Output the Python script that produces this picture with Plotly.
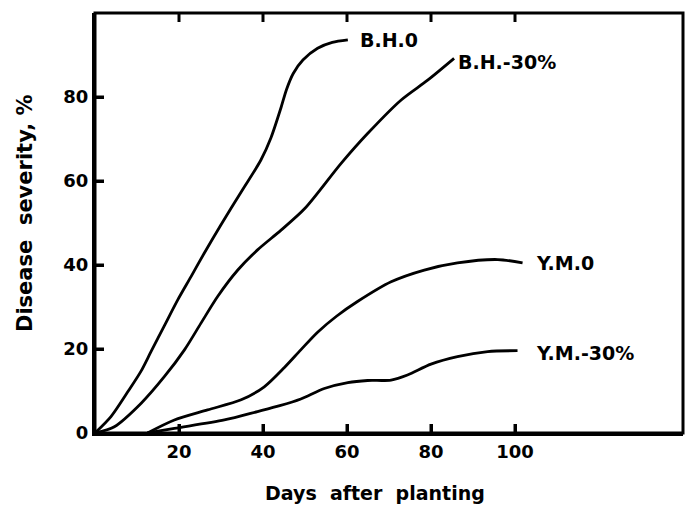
import plotly.graph_objects as go

# Days after planting / disease severity (%)
bh0_x = [0, 3.8, 7.8, 11, 13.3, 16.5, 19.7, 22.9, 26, 30, 34.8, 39.5, 41.9, 44.3, 45.6, 47.2, 49.5, 53, 56.5, 60.2]
bh0_y = [0, 3.9, 9.8, 14.8, 19.3, 25.5, 31.7, 37.3, 42.8, 49.6, 57.4, 65, 70.3, 77.5, 81.8, 85.6, 88.8, 91.6, 93, 93.6]

bh30_x = [0, 4.6, 11, 16.5, 21.3, 25.2, 29.2, 34, 38.7, 44.3, 50, 58.6, 64.9, 72.9, 79.2, 85.5]
bh30_y = [0, 1.5, 7.1, 13.4, 19.8, 26.1, 32.5, 38.8, 43.6, 48.3, 53.5, 64.2, 71.3, 79.3, 84, 89.2]

ym0_x = [12.5, 18.9, 26.8, 34.8, 40.3, 45.1, 49, 53, 57.5, 62.5, 70.5, 78.4, 86.3, 95.9, 101.8]
ym0_y = [0, 3.1, 5.5, 7.9, 11, 15.6, 19.8, 24, 27.8, 31.3, 36, 38.8, 40.5, 41.3, 40.5]

ym30_x = [12.5, 18.9, 30.8, 38.7, 44, 49, 54.6, 60.2, 64.9, 70.5, 74.4, 80, 86.3, 93.5, 100.6]
ym30_y = [0, 1.1, 3.1, 5.1, 6.5, 8.1, 10.6, 12, 12.5, 12.6, 13.8, 16.4, 18.2, 19.4, 19.6]

labels = ["B.H.0", "B.H.-30%", "Y.M.0", "Y.M.-30%"]
label_x = [62.5, 86, 104.5, 104.5]
label_y = [93.6, 88.4, 40.4, 19]

x_ticks = [20, 40, 60, 80, 100]
y_ticks = [0, 20, 40, 60, 80]
x_range = [0, 140]
y_range = [0, 100]

FONT = "DejaVu Sans"
W, H = 694, 505
M = dict(l=95, r=11, t=13, b=72)
TICK_PX = 9
# tick length expressed in data units of each axis
tx = TICK_PX * (x_range[1] - x_range[0]) / (W - M["l"] - M["r"])
ty = TICK_PX * (y_range[1] - y_range[0]) / (H - M["t"] - M["b"])

fig = go.Figure()
for xs, ys in [(bh0_x, bh0_y), (bh30_x, bh30_y), (ym0_x, ym0_y), (ym30_x, ym30_y)]:
    fig.add_trace(go.Scatter(x=xs, y=ys, mode="lines",
                             line=dict(color="black", width=2.8, shape="spline", smoothing=0.8),
                             showlegend=False, hoverinfo="skip"))

# inward tick marks (bottom, top, left) built from the tick arrays
bx, by, topx, topy, lx_, ly_ = [], [], [], [], [], []
for v in x_ticks:
    bx += [v, v, None]
    by += [y_range[0], y_range[0] + ty, None]
    topx += [v, v, None]
    topy += [y_range[1], y_range[1] - ty, None]
for v in y_ticks:
    lx_ += [x_range[0], x_range[0] + tx, None]
    ly_ += [v, v, None]
for xs, ys in [(bx, by), (topx, topy), (lx_, ly_)]:
    fig.add_trace(go.Scatter(x=xs, y=ys, mode="lines", line=dict(color="black", width=3),
                             showlegend=False, hoverinfo="skip"))

for t, lx, ly in zip(labels, label_x, label_y):
    fig.add_annotation(x=lx, y=ly, text="<b>" + t + "</b>", showarrow=False,
                       xanchor="left", yanchor="middle",
                       font=dict(family=FONT, size=19, color="black"))

fig.add_annotation(xref="paper", yref="paper", x=(375 - 95) / 588, y=-0.143,
                   text="<b>Days  after  planting</b>", showarrow=False,
                   xanchor="center", yanchor="middle",
                   font=dict(family=FONT, size=19, color="black"))
fig.add_annotation(xref="paper", yref="paper", x=-0.119, y=(433 - 213) / 420,
                   text="<b>Disease  severity, %</b>", showarrow=False, textangle=-90,
                   xanchor="center", yanchor="middle",
                   font=dict(family=FONT, size=21, color="black"))

# plot frame
fig.add_shape(type="rect", xref="paper", yref="paper", x0=0, y0=0, x1=1, y1=1,
              line=dict(color="black", width=3), layer="above")

fig.update_layout(
    width=W, height=H,
    margin=dict(**M, autoexpand=False),
    paper_bgcolor="white", plot_bgcolor="white",
    xaxis=dict(range=x_range, tickvals=x_ticks, ticktext=["<b>%d</b>" % v for v in x_ticks],
               ticks="inside", ticklen=TICK_PX, tickwidth=3, tickcolor="black",
               showline=True, linecolor="black", linewidth=3,
               showgrid=False, zeroline=False, automargin=False,
               tickfont=dict(family=FONT, size=18, color="black")),
    yaxis=dict(range=y_range, tickvals=y_ticks, ticktext=["<b>%d</b>" % v for v in y_ticks],
               ticks="inside", ticklen=TICK_PX, tickwidth=3, tickcolor="black",
               showline=True, linecolor="black", linewidth=3,
               showgrid=False, zeroline=False, automargin=False,
               tickfont=dict(family=FONT, size=18, color="black")),
)

fig.write_html("out.html", config={"displayModeBar": False},
               post_script="document.body.style.margin='0';")
